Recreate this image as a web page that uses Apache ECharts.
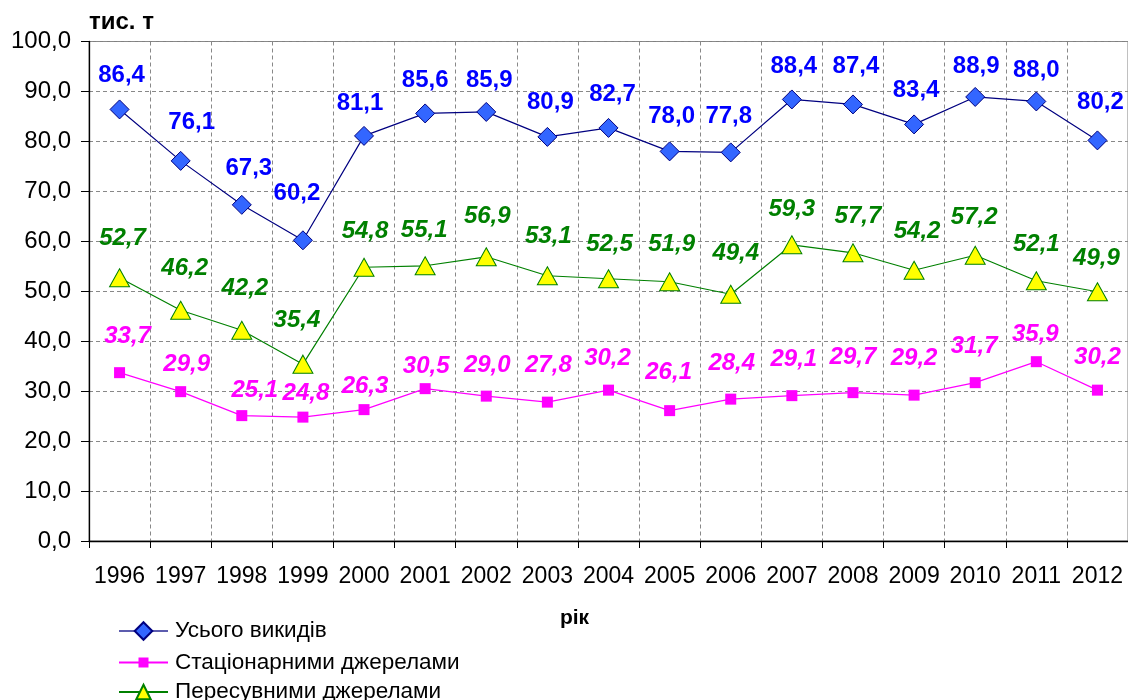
<!DOCTYPE html>
<html>
<head>
<meta charset="utf-8">
<script src="https://cdn.jsdelivr.net/npm/echarts@6/dist/echarts.min.js"></script>
<style>
  html, body { margin: 0; padding: 0; background: #fff; }
  #chart { width: 1128px; height: 700px; }
</style>
</head>
<body>
<div id="chart"></div>
<script>
// дані
const years = ['1996', '1997', '1998', '1999', '2000', '2001', '2002', '2003', '2004',
    '2005', '2006', '2007', '2008', '2009', '2010', '2011', '2012'];
const totalValues = [86.4, 76.1, 67.3, 60.2, 81.1, 85.6, 85.9, 80.9, 82.7, 78.0, 77.8, 88.4, 87.4, 83.4, 88.9, 88.0, 80.2];
const stationaryValues = [33.7, 29.9, 25.1, 24.8, 26.3, 30.5, 29.0, 27.8, 30.2, 26.1, 28.4, 29.1, 29.7, 29.2, 31.7, 35.9, 30.2];
const mobileValues = [52.7, 46.2, 42.2, 35.4, 54.8, 55.1, 56.9, 53.1, 52.5, 51.9, 49.4, 59.3, 57.7, 54.2, 57.2, 52.1, 49.9];
const seriesNames = ['Усього викидів', 'Стаціонарними джерелами', 'Пересувними джерелами'];

// зсув підписів відносно точки (як у вихідній діаграмі)
const totalLabelShift = [[2, -34], [11, -39], [7, -36], [-6, -47], [-4, -33], [0, -33], [3, -32], [3, -35], [4, -34],
    [2, -35], [-2, -36], [2, -33], [3, -38], [2, -34], [1, -31], [0, -31], [3, -38]];
const mobileLabelShift = [[3, -39], [4, -42], [3, -42], [-6, -44], [1, -36], [-1, -35], [1, -40], [1, -39], [1, -34],
    [2, -37], [5, -41], [0, -35], [5, -36], [3, -39], [-1, -38], [0, -36], [-1, -33]];
const stationaryLabelShift = [[8, -36], [6, -27], [13, -25], [3, -24], [1, -23], [1, -22], [1, -31], [1, -37], [-1, -32],
    [-1, -38], [1, -36], [2, -36], [0, -35], [0, -37], [-1, -36], [-1, -27], [0, -33]];

const fmt = v => v.toFixed(1).replace('.', ',');
const FONT = 'Liberation Sans, Arial, sans-serif';

function withLabels(values, shifts) {
    return values.map((v, i) => ({ value: v, label: { offset: shifts[i] } }));
}

// окрема легенда для кожного ряду, щоб маркери мали різний розмір
function legendRow(name, centerY, iconH, lineColor) {
    return {
        orient: 'vertical',
        left: 118,
        top: centerY - Math.max(iconH, 24) / 2,
        padding: 0,
        itemWidth: 49,
        itemHeight: iconH,
        textStyle: { fontFamily: FONT, fontSize: 22.5, lineHeight: 24, color: '#000', padding: [0, 0, 0, 2] },
        data: [{ name: name, lineStyle: lineColor ? { color: lineColor } : undefined }]
    };
}

const my_echart = echarts.init(document.getElementById('chart'));
let option = {
    animation: false,
    backgroundColor: '#fff',
    grid: {
        left: 89,
        right: -3,
        top: 41.5,
        bottom: 159,
        show: true,
        borderColor: '#808080',
        borderWidth: 1
    },
    legend: [
        legendRow(seriesNames[0], 631, 22, '#5c5cae'),
        legendRow(seriesNames[1], 662.5, 12.5),
        legendRow(seriesNames[2], 692, 18)
    ],
    xAxis: {
        type: 'category',
        data: years,
        boundaryGap: true,
        name: 'рік',
        nameLocation: 'middle',
        nameGap: 67,
        nameTextStyle: { fontFamily: FONT, fontSize: 21, fontWeight: 'bold', color: '#000', padding: [0, 68, 0, 0] },
        axisLine: { lineStyle: { color: '#000', width: 1.3 } },
        axisTick: { show: true, interval: 0, length: 7, lineStyle: { color: '#000' } },
        axisLabel: { interval: 0, fontFamily: FONT, fontSize: 23, color: '#000', margin: 24 },
        splitLine: { show: true, interval: 0, lineStyle: { color: '#888', type: [4, 3] } }
    },
    yAxis: {
        type: 'value',
        min: 0,
        max: 100,
        interval: 10,
        name: 'тис. т',
        nameLocation: 'end',
        nameGap: 19,
        nameTextStyle: { fontFamily: FONT, fontSize: 24, fontWeight: 'bold', color: '#000', align: 'left', verticalAlign: 'middle' },
        axisLine: { show: true, lineStyle: { color: '#000', width: 1.3 } },
        axisTick: { show: true, length: 8, lineStyle: { color: '#000' } },
        axisLabel: { fontFamily: FONT, fontSize: 24, color: '#000', margin: 18, formatter: fmt },
        splitLine: { show: true, lineStyle: { color: '#888', type: [4, 3] } }
    },
    series: [
        {
            name: seriesNames[0],
            type: 'line',
            data: withLabels(totalValues, totalLabelShift),
            symbol: 'diamond',
            symbolSize: 19,
            lineStyle: { color: '#000080', width: 1.2 },
            itemStyle: { color: '#3366ff', borderColor: '#000080', borderWidth: 1 },
            label: {
                show: true, position: 'inside', formatter: p => fmt(p.value),
                fontFamily: FONT, fontSize: 24, fontWeight: 'bold', color: '#0000ff'
            },
            z: 3
        },
        {
            name: seriesNames[1],
            type: 'line',
            data: withLabels(stationaryValues, stationaryLabelShift),
            symbol: 'rect',
            symbolSize: 11,
            lineStyle: { color: '#ff00ff', width: 1.2 },
            itemStyle: { color: '#ff00ff', borderColor: '#ff00ff', borderWidth: 0 },
            label: {
                show: true, position: 'inside', formatter: p => fmt(p.value),
                fontFamily: FONT, fontSize: 24, fontWeight: 'bold', fontStyle: 'italic', color: '#ff00ff'
            },
            z: 2
        },
        {
            name: seriesNames[2],
            type: 'line',
            data: withLabels(mobileValues, mobileLabelShift),
            symbol: 'triangle',
            symbolSize: [20, 18],
            lineStyle: { color: '#008000', width: 1.2 },
            itemStyle: { color: '#ffff00', borderColor: '#008000', borderWidth: 1 },
            label: {
                show: true, position: 'inside', formatter: p => fmt(p.value),
                fontFamily: FONT, fontSize: 24, fontWeight: 'bold', fontStyle: 'italic', color: '#008000'
            },
            z: 2
        }
    ]
};
my_echart.setOption(option);
</script>
</body>
</html>
